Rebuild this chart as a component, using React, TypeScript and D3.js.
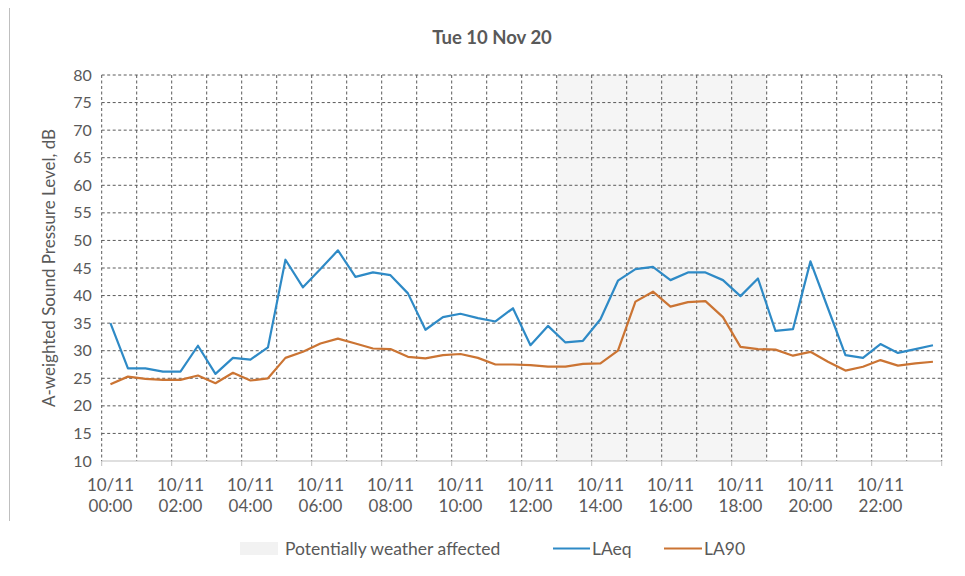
import React from "react";
import * as d3 from "d3";

const hourLabels = ["00:00", "02:00", "04:00", "06:00", "08:00", "10:00", "12:00", "14:00", "16:00", "18:00", "20:00", "22:00"];
const dateLabel = "10/11";
const yTicks = [10, 15, 20, 25, 30, 35, 40, 45, 50, 55, 60, 65, 70, 75, 80];

const laeq = [
  35.0, 26.8, 26.8, 26.2, 26.2, 30.9, 25.8, 28.7, 28.4, 30.6,
  46.5, 41.5, 44.8, 48.2, 43.4, 44.2, 43.7, 40.4, 33.8, 36.1,
  36.7, 35.9, 35.3, 37.7, 31.0, 34.5, 31.5, 31.8, 35.7, 42.7,
  44.8, 45.2, 42.8, 44.2, 44.2, 42.8, 39.9, 43.1, 33.6, 33.9,
  46.2, 37.7, 29.2, 28.7, 31.2, 29.6, 30.3, 31.0,
];
const la90 = [
  23.9, 25.3, 24.9, 24.7, 24.7, 25.5, 24.1, 26.0, 24.6, 25.0,
  28.7, 29.8, 31.3, 32.2, 31.3, 30.4, 30.3, 28.9, 28.6, 29.2,
  29.4, 28.7, 27.5, 27.5, 27.4, 27.1, 27.1, 27.6, 27.7, 30.0,
  38.9, 40.7, 38.0, 38.8, 39.0, 36.1, 30.7, 30.3, 30.2, 29.1,
  29.8, 28.0, 26.4, 27.1, 28.3, 27.3, 27.7, 28.0,
];
// half-hour bins; each plotted at the centre of its bin (hours)
const binHours = 0.5;
const weatherStart = 13;
const weatherEnd = 19;

const FONT = "Lato, 'Open Sans', sans-serif";
const TEXT = "#595959";
const BLUE = "#2E8AC6";
const ORANGE = "#CB7433";

export default function App() {
  const W = 965, H = 576;
  const left = 101.7, right = 941.7, top = 75, bottom = 461;
  const x = d3.scaleLinear().domain([0, 24]).range([left, right]);
  const y = d3.scaleLinear().domain([10, 80]).range([bottom, top]);
  const centre = (i: number) => (i + 0.5) * binHours;

  const lineGen = d3
    .line<number>()
    .x((_, i) => x(centre(i)))
    .y((d) => y(d));

  const hours = d3.range(0, 25);
  const twoHours = d3.range(0, 25, 2);

  return (
    <div style={{ position: "absolute", left: 0, top: 0 }}>
      <svg width={W} height={H} style={{ display: "block", background: "#fff" }}>
        <line x1={9.5} x2={9.5} y1={8} y2={521} stroke="#bfbfbf" strokeWidth={1} />
        <text x={492} y={44} textAnchor="middle" fontFamily={FONT} fontWeight="bold" fontSize={18.5} fill={TEXT}>
          Tue 10 Nov 20
        </text>

        <rect x={x(weatherStart)} y={top} width={x(weatherEnd) - x(weatherStart)} height={bottom - top} fill="#f5f5f5" />

        {yTicks.filter((v) => v > 10).map((v) => (
          <line key={"h" + v} x1={left} x2={right} y1={y(v)} y2={y(v)} stroke="#5a5a5a" strokeWidth={1} strokeDasharray="3 2.5" />
        ))}
        {hours.map((h) => (
          <line key={"v" + h} x1={x(h)} x2={x(h)} y1={top} y2={bottom} stroke="#5a5a5a" strokeWidth={1} strokeDasharray="3 2.5" />
        ))}
        <line x1={left} x2={right} y1={bottom} y2={bottom} stroke="#bfbfbf" strokeWidth={1.2} />
        {twoHours.map((h) => (
          <line key={"t" + h} x1={x(h)} x2={x(h)} y1={bottom} y2={bottom + 5} stroke="#bfbfbf" strokeWidth={1} />
        ))}

        {yTicks.map((v) => (
          <text key={"yl" + v} x={left - 10} y={y(v) + 5.5} textAnchor="end" fontFamily={FONT} fontSize={16} fill={TEXT}>
            {v}
          </text>
        ))}
        {hourLabels.map((lab, k) => {
          const cx = x(centre(k * 4));
          return (
            <text key={"xl" + k} x={cx} textAnchor="middle" fontFamily={FONT} fontSize={17} fill={TEXT}>
              <tspan x={cx} y={491}>{dateLabel}</tspan>
              <tspan x={cx} y={512}>{lab}</tspan>
            </text>
          );
        })}
        <text
          transform={`translate(55, ${(top + bottom) / 2}) rotate(-90)`}
          textAnchor="middle"
          fontFamily={FONT}
          fontSize={17}
          fill={TEXT}
        >
          A-weighted Sound Pressure Level, dB
        </text>

        <path d={lineGen(la90) || ""} fill="none" stroke={ORANGE} strokeWidth={2.2} strokeLinejoin="round" />
        <path d={lineGen(laeq) || ""} fill="none" stroke={BLUE} strokeWidth={2.2} strokeLinejoin="round" />

        <rect x={240} y={542} width={38} height={13} fill="#f2f2f2" />
        <text x={285} y={555} fontFamily={FONT} fontSize={17.5} fill={TEXT}>Potentially weather affected</text>
        <line x1={553} x2={590} y1={548.5} y2={548.5} stroke={BLUE} strokeWidth={2} />
        <text x={592} y={555} fontFamily={FONT} fontSize={17.5} fill={TEXT}>LAeq</text>
        <line x1={664} x2={702} y1={548.5} y2={548.5} stroke={ORANGE} strokeWidth={2} />
        <text x={704} y={555} fontFamily={FONT} fontSize={17.5} fill={TEXT}>LA90</text>
      </svg>
    </div>
  );
}
